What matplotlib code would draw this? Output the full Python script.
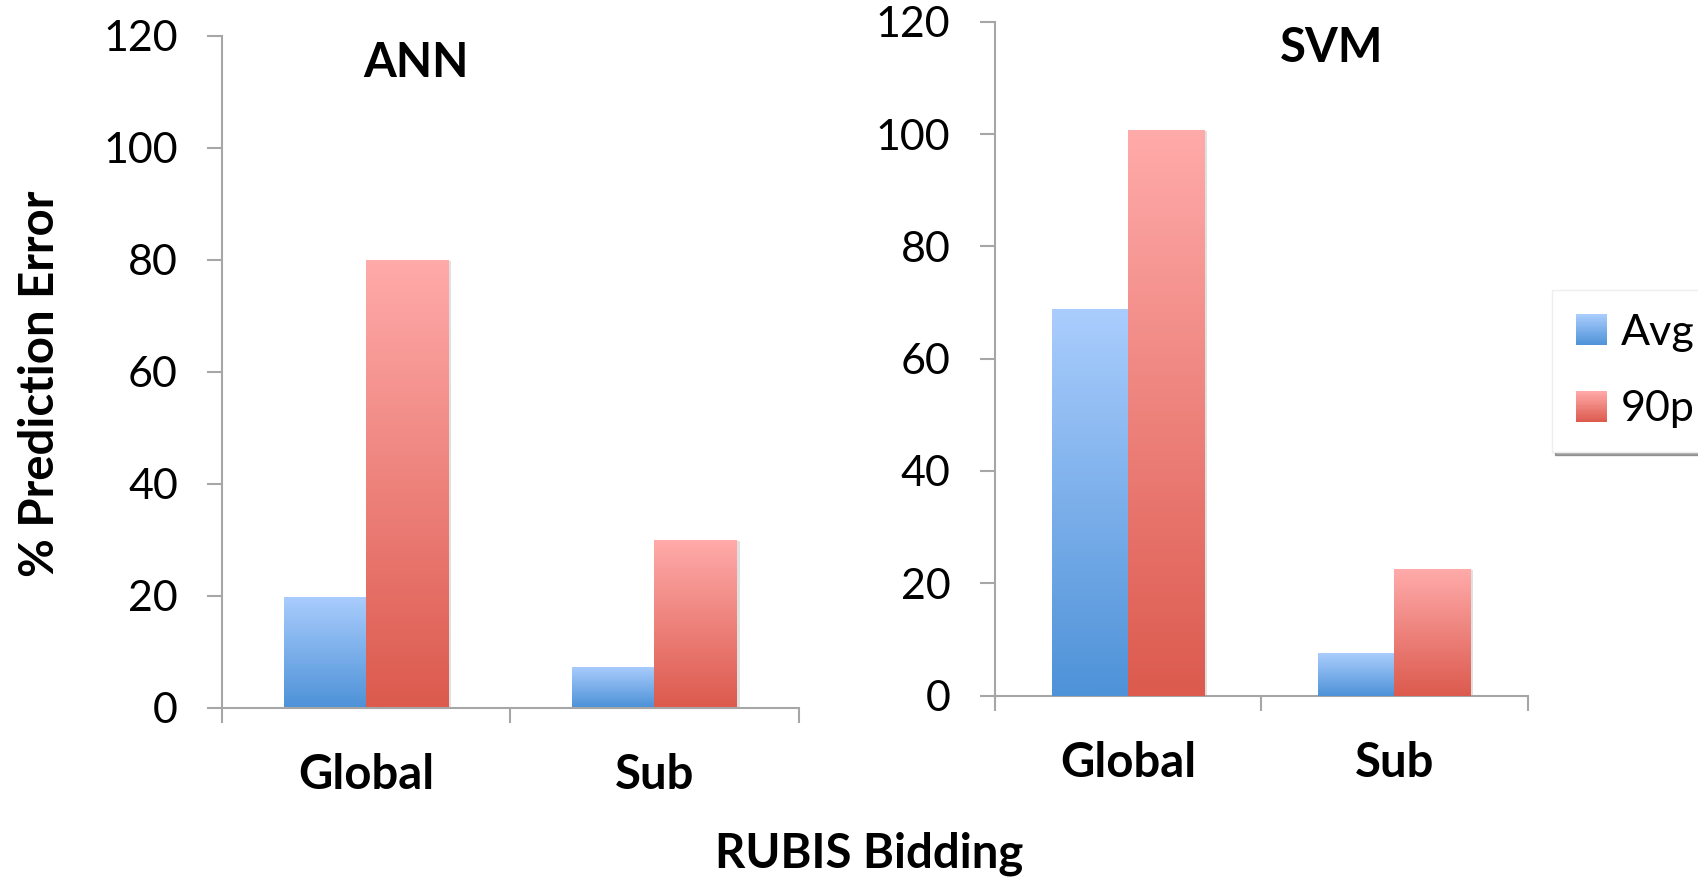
import numpy as np
import matplotlib
matplotlib.use("Agg")
import matplotlib.pyplot as plt
from matplotlib.patches import Rectangle
from matplotlib.legend_handler import HandlerBase
from matplotlib.colors import to_rgb
import matplotlib.patheffects as pe

# ---------------- data ----------------
categories = ["Global", "Sub"]
series_names = ["Avg", "90p"]
ann_avg = [19.7, 7.3]
ann_90p = [80.0, 30.0]
svm_avg = [68.8, 7.5]
svm_90p = [100.7, 22.6]
yticks = [0, 20, 40, 60, 80, 100, 120]
titles = ["ANN", "SVM"]
ylabel = "% Prediction Error"
xlabel = "RUBIS Bidding"

# ---------------- style ----------------
plt.rcParams['font.family'] = ['Lato', 'DejaVu Sans']
FS = 31      # tick labels / legend
FSB = 34     # bold texts
AXC = "#a6a6a6"
grad = {"Avg": ("#aacdfd", "#4e92d8"), "90p": ("#ffabaa", "#dc5a4e")}


def grad_array(top, bot, n=256):
    t = np.linspace(0, 1, n)[:, None]
    top = np.array(to_rgb(top)); bot = np.array(to_rgb(bot))
    arr = bot[None, :] * (1 - t) + top[None, :] * t
    return arr[:, None, :]


fig = plt.figure(figsize=(16.99, 8.77), dpi=100)
W, H = 1699, 877


def make_ax(l, r, top, bottom):
    return fig.add_axes([l / W, 1 - bottom / H, (r - l) / W, (bottom - top) / H])


ax1 = make_ax(222, 798.5, 35.8, 707.5)
ax2 = make_ax(994.6, 1527.7, 21.7, 695.6)

panels = [(ax1, ann_avg, ann_90p, titles[0], (0.3365, 1 - (77 - 35.8) / (707.5 - 35.8))),
          (ax2, svm_avg, svm_90p, titles[1], (0.633, 1 - (62 - 21.7) / (695.6 - 21.7)))]

bw = 1 / 3.5
x = np.arange(len(categories)) + 0.5

for ax, avg, p90, title, tpos in panels:
    for vals, name, off in [(avg, "Avg", -bw / 2), (p90, "90p", bw / 2)]:
        bars = ax.bar(x + off, vals, width=bw, facecolor="white", edgecolor="none",
                      zorder=2,
                      path_effects=[pe.SimplePatchShadow(offset=(2, -1), shadow_rgbFace="k", alpha=0.12),
                                    pe.Normal()])
        top, bot = grad[name]
        for b in bars:
            x0, y0 = b.get_x(), b.get_y()
            im = ax.imshow(grad_array(top, bot), extent=(x0, x0 + b.get_width(), y0, y0 + b.get_height()),
                           origin="lower", aspect="auto", interpolation="bilinear", zorder=3)
            im.set_clip_path(b)
    ax.set_xlim(0, len(categories))
    ax.set_ylim(0, 120)
    ax.set_yticks(yticks)
    ax.set_yticklabels([str(v) for v in yticks], fontsize=FS)
    ax.set_xticks(np.arange(len(categories) + 1))
    ax.set_xticklabels([])
    ax.set_xticks(x, minor=True)
    ax.set_xticklabels(categories, minor=True, fontsize=FSB, fontweight="bold")
    ax.tick_params(axis="x", which="major", direction="out", length=11, width=1.5, color=AXC)
    ax.tick_params(axis="x", which="minor", length=0, pad=33)
    ax.tick_params(axis="y", direction="out", length=10.8, width=1.5, color=AXC, pad=21)
    for s in ["top", "right"]:
        ax.spines[s].set_visible(False)
    for s in ["left", "bottom"]:
        ax.spines[s].set_color(AXC)
        ax.spines[s].set_linewidth(1.5)
    ax.set_facecolor("none")
    ax.text(tpos[0], tpos[1], title, transform=ax.transAxes, ha="center", va="baseline",
            fontsize=FSB, fontweight="bold")

fig.text(40 / W, 1 - 384 / H, ylabel, rotation=90, ha="center", va="center",
         fontsize=FSB, fontweight="bold")
fig.text(869 / W, 1 - 867 / H, xlabel, ha="center", va="baseline",
         fontsize=FSB, fontweight="bold")


class GradHandler(HandlerBase):
    def __init__(self, top, bot, n=24):
        super().__init__()
        self.top = np.array(to_rgb(top)); self.bot = np.array(to_rgb(bot)); self.n = n

    def create_artists(self, legend, orig_handle, xdescent, ydescent, width, height, fontsize, trans):
        arts = []
        h = height / self.n
        for i in range(self.n):
            t = (i + 0.5) / self.n
            c = self.bot * (1 - t) + self.top * t
            arts.append(Rectangle((-xdescent, -ydescent + i * h), width, h * 1.05,
                                  facecolor=c, edgecolor="none", transform=trans))
        return arts


handles = [Rectangle((0, 0), 1, 1) for _ in series_names]
hmap = {handles[i]: GradHandler(*grad[n]) for i, n in enumerate(series_names)}
leg = fig.legend(handles, series_names, handler_map=hmap, loc="upper left",
                 bbox_to_anchor=(1552 / W, 1 - 290 / H), bbox_transform=fig.transFigure,
                 fontsize=FS, frameon=True, fancybox=False, shadow=True,
                 handlelength=0.72, handleheight=0.72, handletextpad=0.32,
                 labelspacing=0.9, borderpad=0.55, borderaxespad=0)
leg.get_frame().set_edgecolor("#eeeeee")
leg.get_frame().set_linewidth(1)

fig.savefig("out.png", dpi=100)
